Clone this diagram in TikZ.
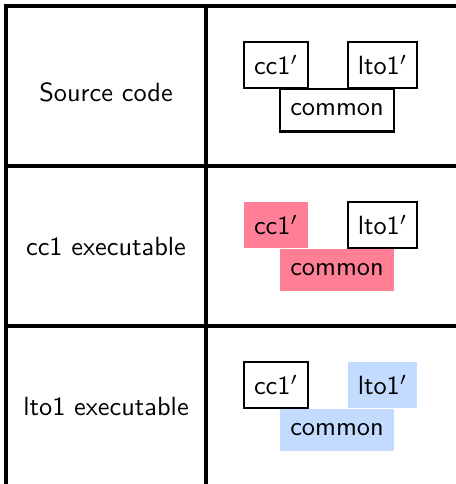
\documentclass[tikz,border=0pt]{standalone}
\usepackage{tikz}
\usetikzlibrary{positioning}
\usepackage{xcolor}

\definecolor{ccpink}{RGB}{255,128,150}
\definecolor{ltoblue}{RGB}{194,219,255}

\tikzset{
  grid/.style={line width=1.15pt},
  rowlabel/.style={font=\sffamily},
  part/.style={draw, thick, font=\sffamily, inner sep=0pt, minimum height=17.5pt},
  used/.style={fill=#1, draw=none},
  ccbox/.style={part, minimum width=24.3pt},
  ltobox/.style={part, minimum width=26.2pt},
  commonbox/.style={part, minimum width=43.3pt, minimum height=16.3pt}
}

\begin{document}
\begin{tikzpicture}[x=0.38pt,y=0.38pt]
\useasboundingbox (0,0) rectangle (456,484);

% table lines
\draw[grid] (6,0) -- (6,478) -- (456,478);
\draw[grid] (206,0) -- (206,478);
\draw[grid] (6,318) -- (456,318);
\draw[grid] (6,158) -- (456,158);

% left column
\node[rowlabel] (src) at (106,391.5) {Source code};
\node[rowlabel] (ccexe) at (106,237.5) {cc1 executable};
\node[rowlabel] (ltoexe) at (106,77.5) {lto1 executable};

% source code
\node[ccbox] (src-cc1) at (276,419) {cc1$'$};
\node[ltobox] (src-lto1) at (382.5,419) {lto1$'$};
\node[commonbox] (src-common) at (337,374) {common};

% cc1 executable
\node[ccbox,used=ccpink] (cc-cc1) at (276,259) {cc1$'$};
\node[ltobox] (cc-lto1) at (382.5,259) {lto1$'$};
\node[commonbox,used=ccpink] (cc-common) at (337,214) {common};

% lto1 executable
\node[ccbox] (lto-cc1) at (276,99) {cc1$'$};
\node[ltobox,used=ltoblue] (lto-lto1) at (382.5,99) {lto1$'$};
\node[commonbox,used=ltoblue] (lto-common) at (337,54) {common};

\end{tikzpicture}
\end{document}
